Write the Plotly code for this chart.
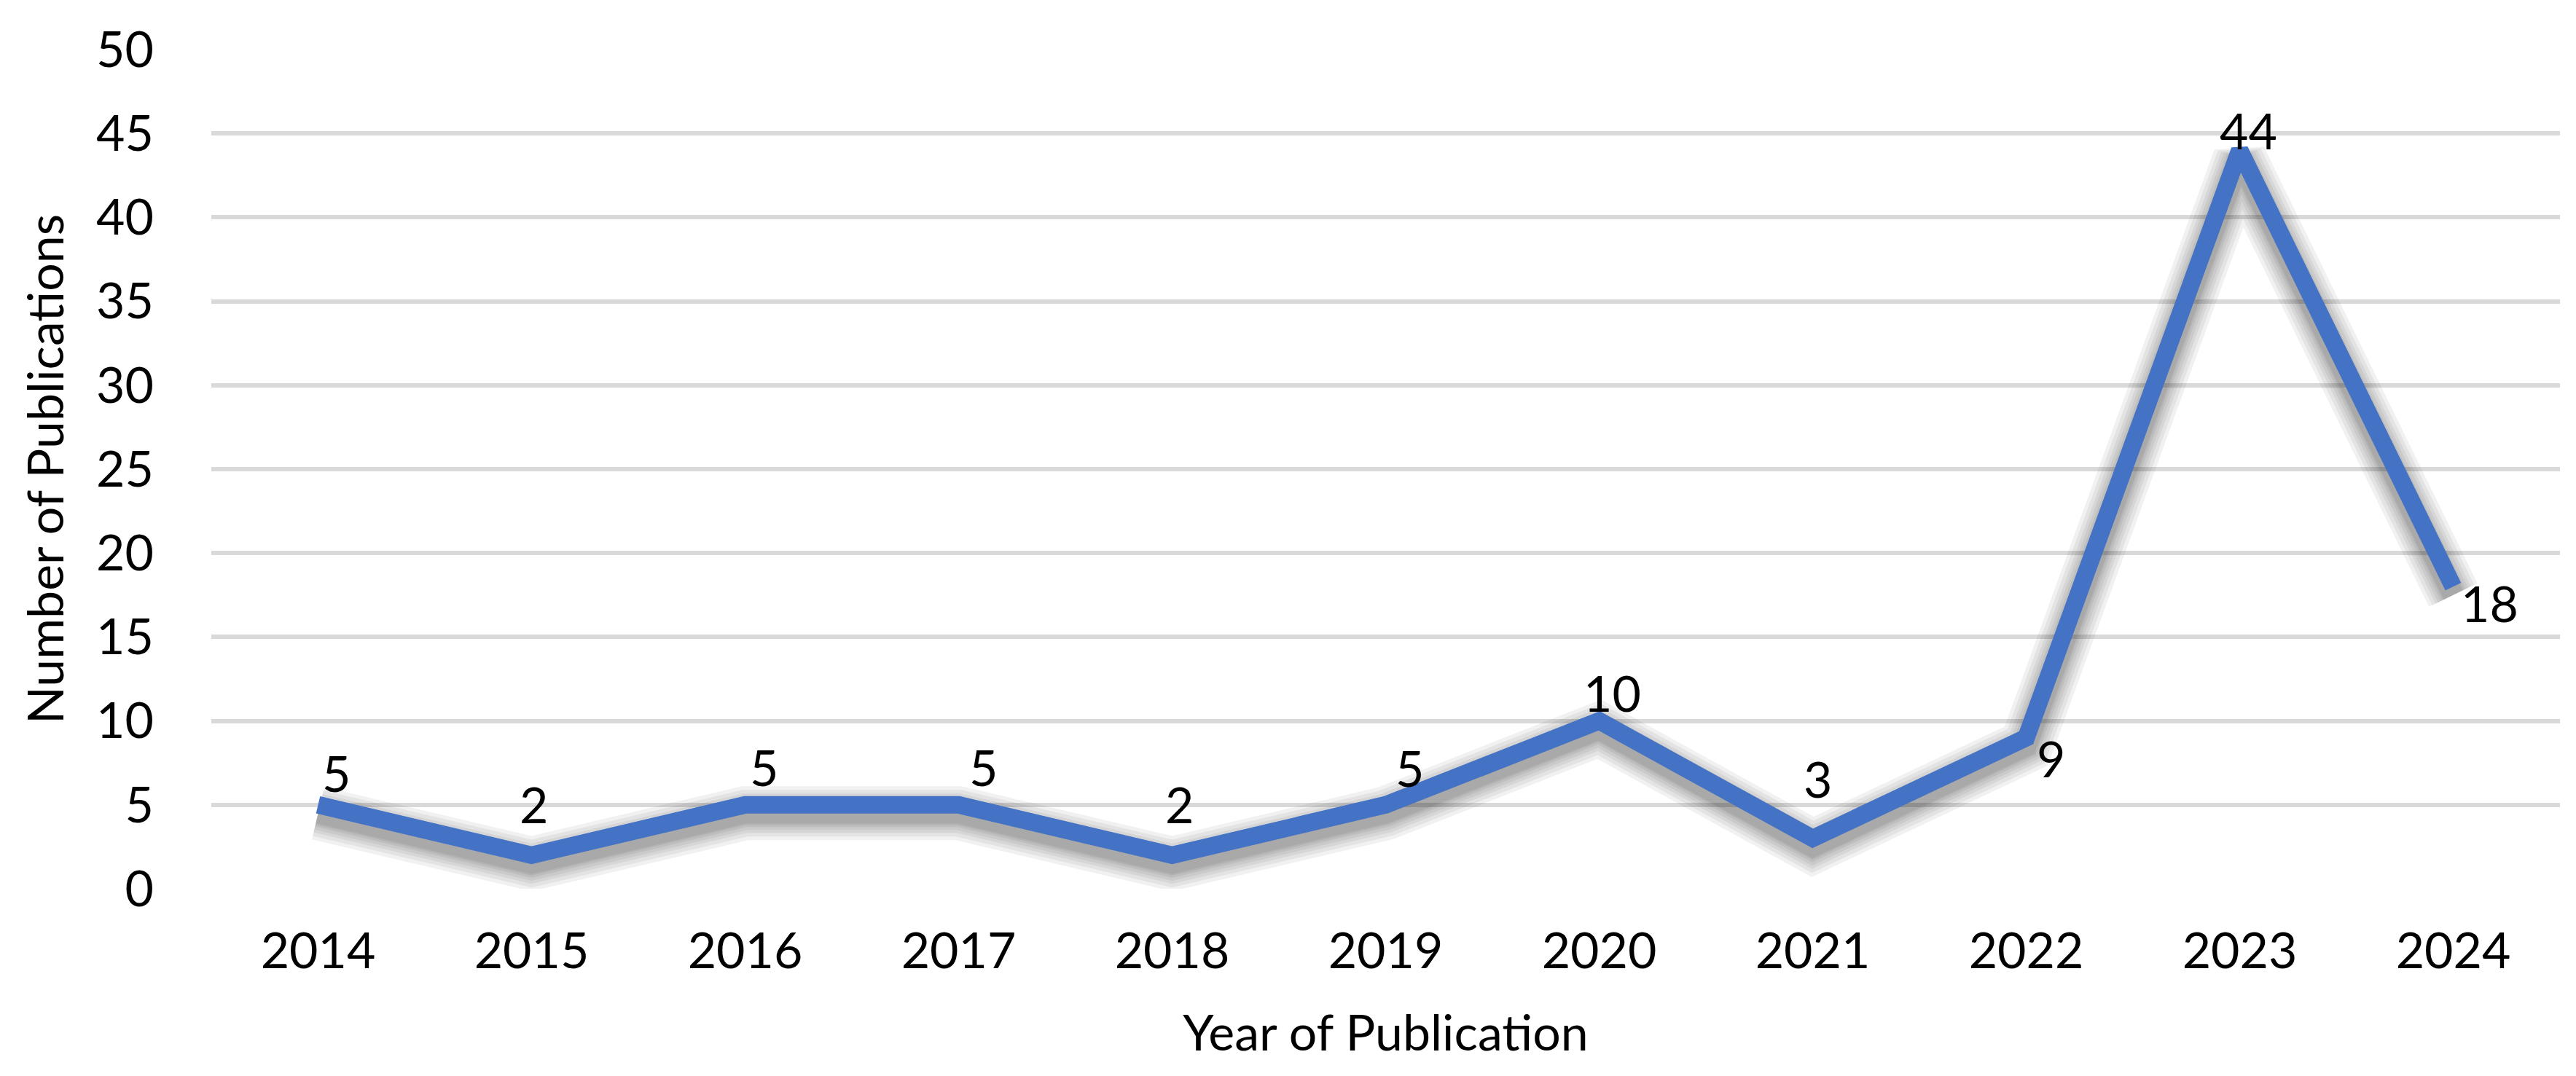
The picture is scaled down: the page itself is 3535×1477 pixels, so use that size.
import plotly.graph_objects as go

# ---- data ----
years = ["2014", "2015", "2016", "2017", "2018", "2019", "2020", "2021", "2022", "2023", "2024"]
publications = [5, 2, 5, 5, 2, 5, 10, 3, 9, 44, 18]
y_ticks = [0, 5, 10, 15, 20, 25, 30, 35, 40, 45, 50]

# ---- styling (label offsets in px, not data) ----
label_dx = [25, 3, 26, 34, 10, 33, 18, 7, 34, 12, 50]
label_dy = [40, 66, 48, 48, 66, 47, 35, 78, -32, 24, -26]

FONT = "Lato, Carlito, 'Open Sans', sans-serif"
FS = 68
LINE_COLOR = "#4472C4"
GRID = "#D9D9D9"

fig = go.Figure()

# base subplot anchor (invisible) so the gridded axis is drawn
fig.add_trace(go.Scatter(
    x=years, y=publications, mode="lines", yaxis="y",
    line=dict(color="rgba(0,0,0,0)", width=0),
    hoverinfo="skip", showlegend=False,
))

# soft drop shadow (same data, on a slightly shifted overlay axis)
for w in [74, 64, 54, 46, 38, 32, 28]:
    fig.add_trace(go.Scatter(
        x=years, y=publications, mode="lines", yaxis="y2",
        line=dict(color="rgba(0,0,0,0.055)", width=w),
        hoverinfo="skip", showlegend=False,
    ))

# main line
fig.add_trace(go.Scatter(
    x=years, y=publications, mode="lines", yaxis="y3",
    line=dict(color=LINE_COLOR, width=24),
    showlegend=False,
))

annotations = []
for i, (v, dx, dy) in enumerate(zip(publications, label_dx, label_dy)):
    annotations.append(dict(
        x=i, y=v, xref="x", yref="y", text=str(v), showarrow=False,
        xanchor="center", yanchor="middle", xshift=dx, yshift=dy + 4,
        font=dict(family=FONT, size=FS, color="#000000"),
    ))

shadow_shift = 0.5  # in data units (~11 px)
fig.update_layout(
    width=3535, height=1477,
    margin=dict(l=282, r=30, t=60, b=265),
    paper_bgcolor="white", plot_bgcolor="white",
    font=dict(family=FONT, size=FS, color="#000000"),
    xaxis=dict(
        type="category", range=[-0.5, 10.5],
        showgrid=False, showline=False, zeroline=False, ticks="",
        tickfont=dict(family=FONT, size=FS, color="#000000"),
        ticklabelstandoff=40,
        title=dict(text="Year of Publication", standoff=52,
                   font=dict(family=FONT, size=FS, color="#000000")),
    ),
    yaxis=dict(
        range=[0, 50], tickvals=y_ticks, showgrid=True, gridcolor=GRID, gridwidth=6,
        zeroline=False, showline=False, ticks="",
        tickfont=dict(family=FONT, size=FS, color="#000000"),
        ticklabelstandoff=78,
        title=dict(text="Number of Publications", standoff=22,
                   font=dict(family=FONT, size=FS, color="#000000")),
    ),
    yaxis2=dict(range=[shadow_shift, 50 + shadow_shift], overlaying="y",
                showgrid=False, showticklabels=False, zeroline=False, ticks=""),
    yaxis3=dict(range=[0, 50], overlaying="y",
                showgrid=False, showticklabels=False, zeroline=False, ticks=""),
    annotations=annotations,
)

fig.write_html("out.html")
